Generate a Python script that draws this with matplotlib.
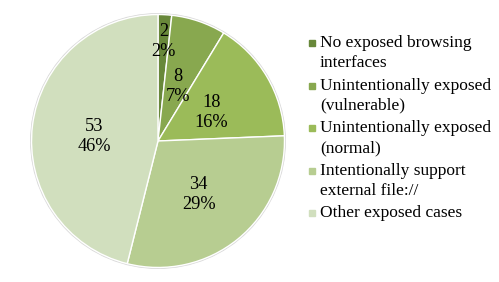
import numpy as np
import matplotlib
matplotlib.use("Agg")
import matplotlib.pyplot as plt
from matplotlib.lines import Line2D

plt.rcParams['font.family'] = ['Liberation Serif', 'DejaVu Serif']

categories = ['No exposed browsing\ninterfaces',
              'Unintentionally exposed\n(vulnerable)',
              'Unintentionally exposed\n(normal)',
              'Intentionally support\nexternal file://',
              'Other exposed cases']
counts = [2, 8, 18, 34, 53]
pct_labels = ['2%', '7%', '16%', '29%', '46%']
colors = ['#68883a', '#88a84f', '#9bbb59', '#b7cd91', '#d1dfbe']
label_r = [0.81, 0.48, 0.49, 0.51, 0.51]

W, H = 499, 282
fig = plt.figure(figsize=(W / 100, H / 100), dpi=100)
ax = fig.add_axes([(158 - 129) / W, 12 / H, 258 / W, 258 / H])

wedges, _ = ax.pie(counts, colors=colors, startangle=90, counterclock=False,
                   radius=1, wedgeprops=dict(edgecolor='white', linewidth=1.0))

# faint outline around the whole pie
ax.add_patch(plt.Circle((0, 0), 1.005, fill=False, ec='#d8d8d8', lw=1.2, zorder=0))

for w, n, p, r in zip(wedges, counts, pct_labels, label_r):
    ang = np.deg2rad((w.theta1 + w.theta2) / 2)
    ax.text(r * np.cos(ang), r * np.sin(ang) - 0.025, f"{n}\n{p}", ha='center', va='center',
            fontsize=13.2, linespacing=1.25, color='black')

ax.set_xlim(-1.02, 1.02)
ax.set_ylim(-1.02, 1.02)
ax.set_aspect('equal')
ax.axis('off')

# legend drawn by hand so the swatch sits on the first line of each entry
y = 43
for lab, c in zip(categories, colors):
    fig.add_artist(Line2D([311.5 / W], [1 - y / H], transform=fig.transFigure,
                          marker='s', markersize=5, linestyle='none',
                          markerfacecolor=c, markeredgecolor=c))
    for k, line in enumerate(lab.split('\n')):
        fig.text(320 / W, 1 - (y + 20 * k) / H, line, ha='left', va='center',
                 fontsize=12.5, color='black')
    y += 42.6

fig.savefig('out.png', dpi=100)
